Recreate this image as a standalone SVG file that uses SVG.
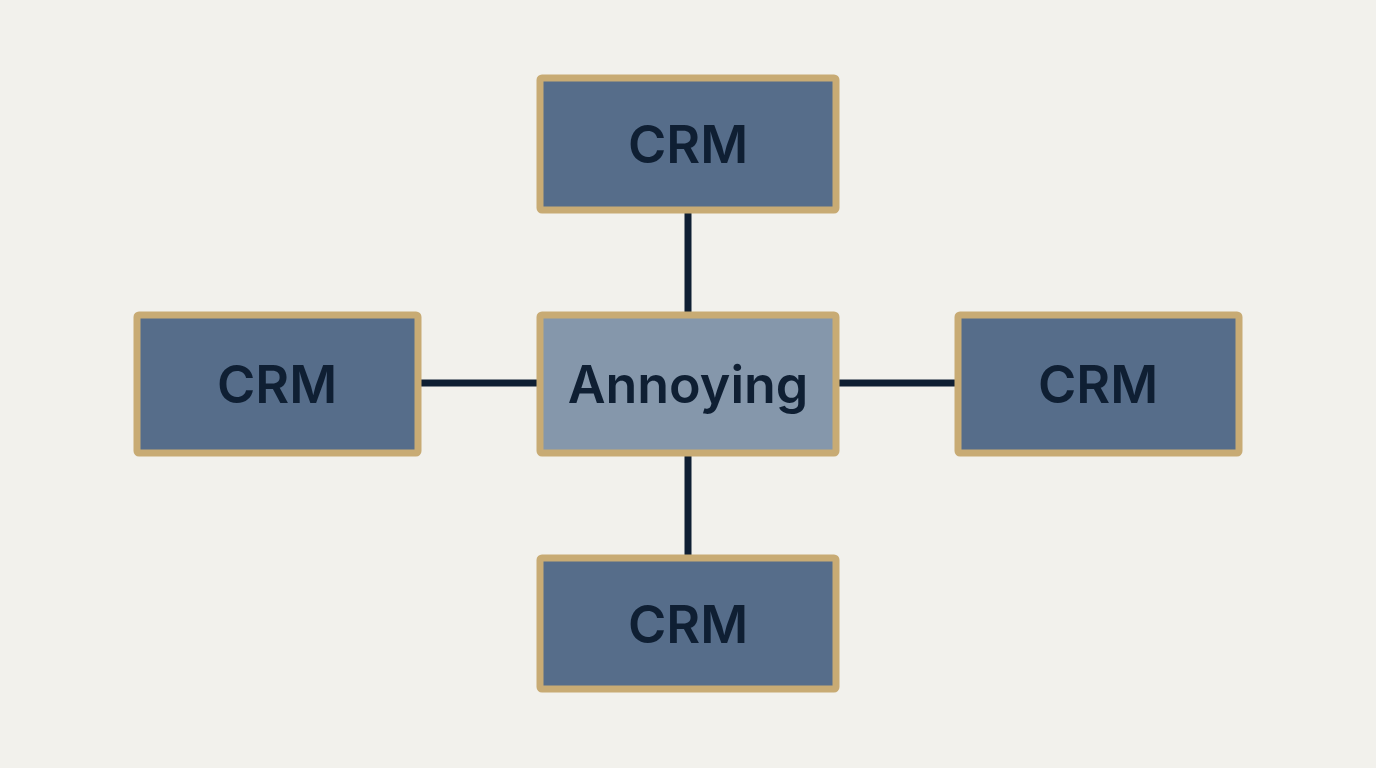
<svg xmlns="http://www.w3.org/2000/svg" width="1376" height="768" viewBox="0 0 1376 768">
<style>
.box{fill:#566d8a;stroke:#c8ab74;stroke-width:7}
.center{fill:#8597ab;stroke:#c8ab74;stroke-width:7}
.t{font-family:"Inter","Liberation Sans",sans-serif;font-size:52px;font-weight:600;fill:#0f1f33;text-anchor:middle;dominant-baseline:central}
.c{stroke:#0f1f33;stroke-width:7}
</style>
<rect width="1376" height="768" fill="#f2f1ec"/>
<g id="connectors">
<line class="c" x1="688" y1="212" x2="688" y2="315"/>
<line class="c" x1="688" y1="455" x2="688" y2="558"/>
<line class="c" x1="418" y1="383" x2="540" y2="383"/>
<line class="c" x1="836" y1="383" x2="958" y2="383"/>
</g>
<g id="top"><rect class="box" x="540" y="78" width="296" height="132" rx="2"/><text class="t" x="688" y="144">CRM</text></g>
<g id="center"><rect class="center" x="540" y="315" width="296" height="138" rx="2"/><text class="t" x="688" y="384">Annoying</text></g>
<g id="left"><rect class="box" x="137" y="315" width="281" height="138" rx="2"/><text class="t" x="277" y="384">CRM</text></g>
<g id="right"><rect class="box" x="958" y="315" width="281" height="138" rx="2"/><text class="t" x="1098" y="384">CRM</text></g>
<g id="bottom"><rect class="box" x="540" y="558" width="296" height="131" rx="2"/><text class="t" x="688" y="624">CRM</text></g>
</svg>
